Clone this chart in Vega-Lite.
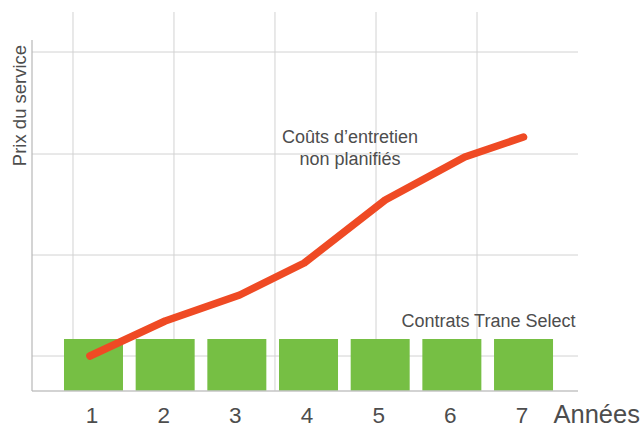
{
  "$schema": "https://vega.github.io/schema/vega-lite/v6.json",
  "width": 546,
  "height": 379,
  "autosize": {"type": "none"},
  "padding": {"left": 32, "top": 12, "right": 65, "bottom": 34},
  "background": "white",
  "config": {"view": {"stroke": null}, "font": "Liberation Sans"},
  "datasets": {
    "bars": [
      {"year": 1, "price": 52},
      {"year": 2, "price": 52},
      {"year": 3, "price": 52},
      {"year": 4, "price": 52},
      {"year": 5, "price": 52},
      {"year": 6, "price": 52},
      {"year": 7, "price": 52}
    ],
    "cost": [
      {"x": 0.95, "price": 35},
      {"x": 2.0, "price": 70},
      {"x": 3.04, "price": 96},
      {"x": 3.94, "price": 128},
      {"x": 5.07, "price": 191},
      {"x": 6.18, "price": 234},
      {"x": 7.0, "price": 254}
    ],
    "vgrid": [{"x": 0.714}, {"x": 2.123}, {"x": 3.532}, {"x": 4.942}, {"x": 6.351}],
    "hgrid": [{"y": 35}, {"y": 136}, {"y": 237}, {"y": 339}],
    "one": [{}]
  },
  "layer": [
    {
      "data": {"name": "bars"},
      "mark": {"type": "bar", "color": "#76BF44", "size": 59, "opacity": 0},
      "encoding": {
        "x": {
          "field": "year", "type": "quantitative",
          "scale": {"domain": [0.142, 7.76], "nice": false, "zero": false, "padding": 0},
          "axis": {
            "values": [1, 2, 3, 4, 5, 6, 7], "format": "d",
            "domain": false, "ticks": false, "grid": false,
            "labelFontSize": 22.5, "labelColor": "#4d4d4d", "labelBaseline": "alphabetic",
            "labelPadding": 31.5, "labelOffset": -2, "labelFlush": false,
            "title": "Années", "titleFontSize": 25.5, "titleFontWeight": "normal", "titleColor": "#4d4d4d",
            "titleAlign": "left", "titleBaseline": "alphabetic", "titleX": 521, "titleY": 31.3, "titleAnchor": "start"
          }
        },
        "y": {
          "field": "price", "type": "quantitative",
          "scale": {"domain": [0, 379], "nice": false, "zero": false, "padding": 0},
          "axis": {
            "domain": false, "ticks": false, "labels": false, "grid": false,
            "title": "Prix du service", "titleFontSize": 18.5, "titleFontWeight": "normal", "titleColor": "#4d4d4d",
            "titleAngle": -90, "titleAlign": "center", "titleBaseline": "alphabetic", "titleX": -7, "titleY": 93
          }
        }
      }
    },
    {
      "data": {"name": "vgrid"},
      "mark": {"type": "rule", "color": "#d2d2d2", "strokeWidth": 1},
      "encoding": {
        "x": {"field": "x", "type": "quantitative"}
      }
    },
    {
      "data": {"name": "hgrid"},
      "mark": {"type": "rule", "color": "#d2d2d2", "strokeWidth": 1},
      "encoding": {
        "y": {"field": "y", "type": "quantitative"}
      }
    },
    {
      "data": {"name": "bars"},
      "mark": {"type": "bar", "color": "#76BF44", "size": 59},
      "encoding": {
        "x": {"field": "year", "type": "quantitative"},
        "y": {"field": "price", "type": "quantitative"}
      }
    },
    {
      "data": {"name": "one"},
      "mark": {"type": "rule", "color": "#c4c4c4", "strokeWidth": 1.5},
      "encoding": {
        "y": {"datum": 0, "type": "quantitative"}
      }
    },
    {
      "data": {"name": "one"},
      "mark": {"type": "rule", "color": "#b8b8b8", "strokeWidth": 1.2},
      "encoding": {
        "x": {"datum": 0.142, "type": "quantitative"},
        "y": {"datum": 0, "type": "quantitative"},
        "y2": {"datum": 351}
      }
    },
    {
      "data": {"name": "cost"},
      "mark": {"type": "line", "color": "#EF4A24", "strokeWidth": 7.5, "strokeCap": "round", "strokeJoin": "round"},
      "encoding": {
        "x": {"field": "x", "type": "quantitative"},
        "y": {"field": "price", "type": "quantitative"}
      }
    },
    {
      "data": {"name": "one"},
      "mark": {"type": "text", "text": ["Coûts d’entretien", "non planifiés"], "align": "center", "baseline": "alphabetic", "fontSize": 18, "lineHeight": 22, "color": "#4d4d4d"},
      "encoding": {
        "x": {"datum": 4.579, "type": "quantitative"},
        "y": {"datum": 247.7, "type": "quantitative"}
      }
    },
    {
      "data": {"name": "one"},
      "mark": {"type": "text", "text": "Contrats Trane Select", "align": "right", "baseline": "alphabetic", "fontSize": 18, "color": "#4d4d4d"},
      "encoding": {
        "x": {"datum": 7.725, "type": "quantitative"},
        "y": {"datum": 63.7, "type": "quantitative"}
      }
    }
  ]
}
